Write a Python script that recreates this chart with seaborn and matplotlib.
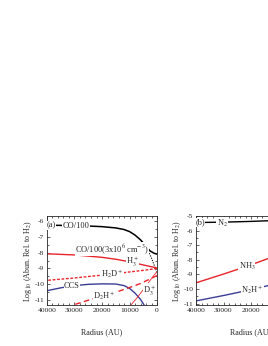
"""Abundance profiles vs radius, two panels (a) and (b)."""

import matplotlib
matplotlib.use("Agg")
import matplotlib.pyplot as plt
import seaborn as sns
from matplotlib.ticker import MultipleLocator

# panel (a) data, radius in AU
co_r = [40000, 35000, 30000, 25000, 20000, 15000, 12000, 10000, 8000, 6000, 4000, 2500, 1000, 0]
co = [-6.28, -6.29, -6.31, -6.33, -6.37, -6.45, -6.55, -6.68, -6.9, -7.2, -7.6, -7.9, -8.05, -8.1]
co_dense_r = [6000, 4000, 3000, 2000, 1000, 0]
co_dense = [-7.2, -7.62, -7.95, -8.35, -8.8, -9.25]
h3_r = [40000, 30000, 20000, 15000, 10000, 5000, 0]
h3 = [-8.08, -8.15, -8.3, -8.42, -8.58, -8.78, -8.97]
h2d_r = [40000, 30000, 20000, 15000, 10000, 5000, 0]
h2d = [-9.75, -9.6, -9.42, -9.33, -9.22, -9.12, -9.0]
ccs_r = [40000, 35000, 30000, 25000, 20000, 15000, 12000, 10000, 8000, 6000, 4500]
ccs = [-10.4, -10.22, -10.08, -10.0, -9.97, -9.98, -10.08, -10.25, -10.55, -10.95, -11.35]
d2h_r = [30500, 25000, 20000, 15000, 10000, 6000, 3000, 0]
d2h = [-11.3, -11.0, -10.75, -10.5, -10.2, -9.95, -9.7, -9.45]
d3_r = [9500, 7500, 5500, 4000, 2500, 1200, 0]
d3 = [-11.3, -10.9, -10.45, -10.1, -9.75, -9.45, -9.2]

# panel (b) data
n_r = [40000, 30000, 20000, 10000, 0]
n2 = [-5.45, -5.42, -5.37, -5.3, -5.25]
nh3 = [-9.58, -8.98, -8.35, -7.65, -7.0]
n2h = [-10.82, -10.45, -10.05, -9.6, -9.2]

RED = "#e8242b"
BLUE = "#3c3c96"

sns.set_style("ticks")
plt.rcParams["font.family"] = ["Liberation Serif", "DejaVu Serif"]
plt.rcParams["mathtext.fontset"] = "stix"
plt.rcParams["axes.unicode_minus"] = False

fig = plt.figure(figsize=(2.68, 3.46), dpi=100)
ax_a = fig.add_axes([47 / 268, 41 / 346, 110 / 268, 89 / 346])
ax_b = fig.add_axes([196 / 268, 41 / 346, 110 / 268, 89 / 346])

lw = 1.0
sns.lineplot(x=co_r, y=co, ax=ax_a, color="black", lw=1.1)
sns.lineplot(x=co_dense_r, y=co_dense, ax=ax_a, color="black", lw=0.8, linestyle=(0, (1, 1.2)))
sns.lineplot(x=h3_r, y=h3, ax=ax_a, color=RED, lw=lw)
sns.lineplot(x=h2d_r, y=h2d, ax=ax_a, color=RED, lw=lw, linestyle=(0, (2, 1.2)))
sns.lineplot(x=ccs_r, y=ccs, ax=ax_a, color=BLUE, lw=lw)
sns.lineplot(x=d2h_r, y=d2h, ax=ax_a, color=RED, lw=lw, linestyle=(0, (4, 2.5)))
sns.lineplot(x=d3_r, y=d3, ax=ax_a, color=RED, lw=0.6)

sns.lineplot(x=n_r, y=n2, ax=ax_b, color="black", lw=lw)
sns.lineplot(x=n_r, y=nh3, ax=ax_b, color=RED, lw=lw)
sns.lineplot(x=n_r, y=n2h, ax=ax_b, color=BLUE, lw=lw)

box = dict(facecolor="white", edgecolor="none", pad=0.2)
fs = 6.0
labels_a = [
    (38500, -6.3, "(a)"),
    (29500, -6.33, "CO/100"),
    (16300, -7.8, "CO/100(3x10$^6$ cm$^{-3}$)"),
    (9000, -8.58, "H$_3^+$"),
    (16300, -9.33, "H$_2$D$^+$"),
    (31000, -10.12, "CCS"),
    (19200, -10.7, "D$_2$H$^+$"),
    (2600, -10.4, "D$_3^+$"),
]
for x, y, t in labels_a:
    ax_a.text(x, y, t, fontsize=fs, ha="center", va="center", bbox=box, zorder=5)

labels_b = [
    (38500, -5.45, "(b)"),
    (30500, -5.5, "N$_2$"),
    (21500, -8.45, "NH$_3$"),
    (19500, -10.05, "N$_2$H$^+$"),
]
for x, y, t in labels_b:
    ax_b.text(x, y, t, fontsize=fs, ha="center", va="center", bbox=box, zorder=5)

for ax, ylim, ymaj in [(ax_a, (-11.3, -5.7), range(-11, -5)), (ax_b, (-11.1, -5.0), range(-11, -4))]:
    ax.set_xlim(40000, 0)
    ax.set_ylim(*ylim)
    ax.set_xticks([40000, 30000, 20000, 10000, 0])
    ax.set_yticks(list(ymaj))
    ax.xaxis.set_minor_locator(MultipleLocator(2000))
    ax.yaxis.set_minor_locator(MultipleLocator(0.5))
    ax.tick_params(which="both", direction="in", top=True, right=True, labelsize=5.4, pad=2, width=0.5)
    ax.tick_params(which="major", length=2.5)
    ax.tick_params(which="minor", length=1.3)
    for s in ax.spines.values():
        s.set_linewidth(0.6)
    ax.set_xlabel("Radius (AU)", fontsize=5.8)
    ax.set_ylabel("Log$_{10}$ (Abun. Rel. to H$_2$)", fontsize=5.8)
    ax.xaxis.set_label_coords(0.5, -0.26)
    ax.yaxis.set_label_coords(-0.115, 0.5)

fig.savefig("out.png", dpi=100)
